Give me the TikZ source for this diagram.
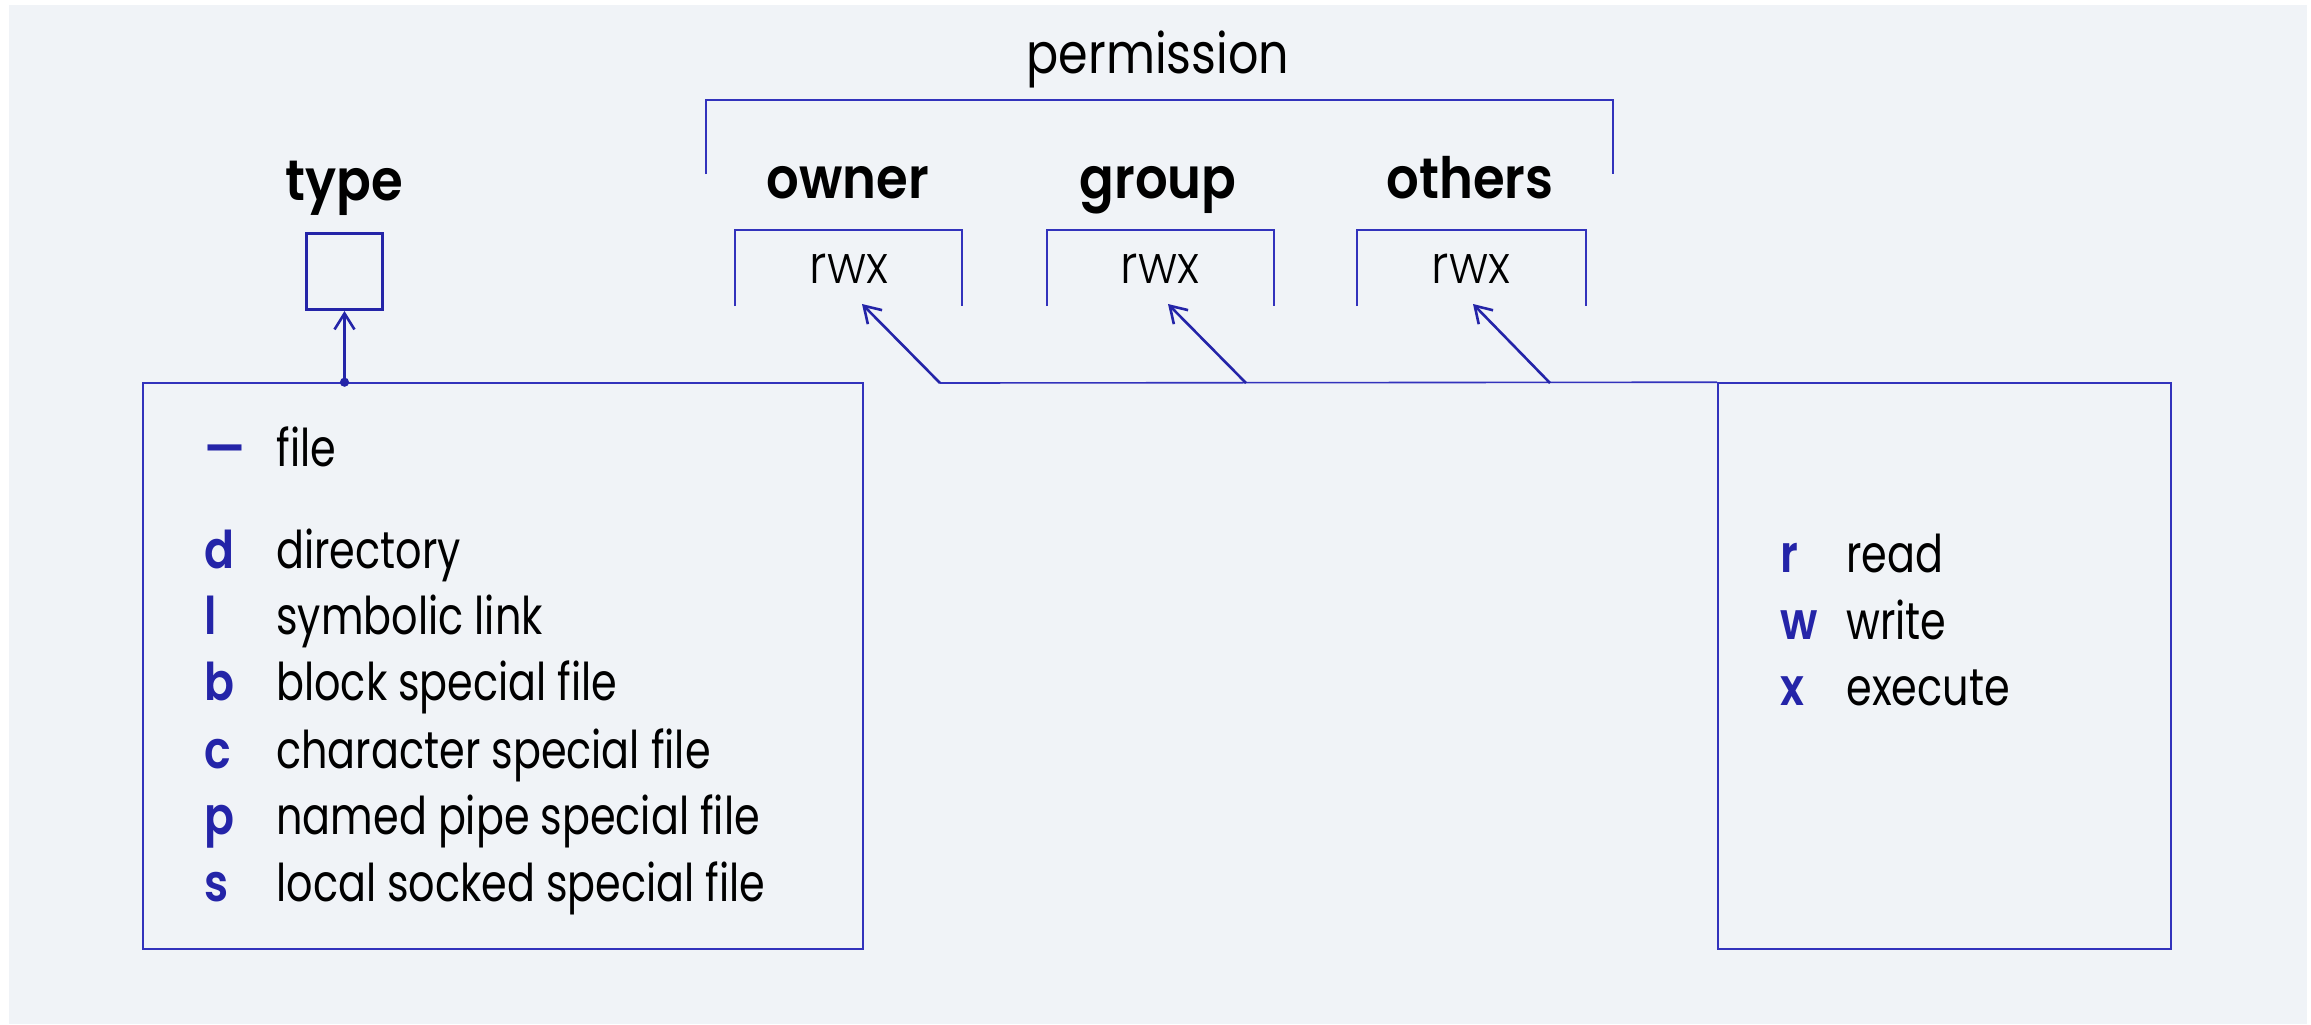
\documentclass[tikz,border=0pt]{standalone}
\usepackage{fontspec}
\setmainfont{Poppins}[FakeStretch=0.85]
\newfontfamily\itemfont{Poppins}[FakeStretch=0.795]
\newfontfamily\keyfont{Poppins SemiBold}[FakeStretch=0.85]
\newfontfamily\lightfont{Poppins Light}[FakeStretch=0.9]
\newfontfamily\headfont{Poppins SemiBold}[FakeStretch=0.9]
\usetikzlibrary{arrows.meta,fit}
\definecolor{bgfill}{HTML}{F0F3F7}
\definecolor{rule}{HTML}{3232BC}
\definecolor{ink}{HTML}{2424A8}

\tikzset{
  panel/.style={draw=rule, line width=0.8pt, inner sep=0pt},
  thinrule/.style={draw=rule, line width=0.8pt},
  pointer/.style={draw=ink, line width=1.3pt,
    -{Straight Barb[length=8pt,width=10pt,line width=1.3pt]}},
  key/.style={anchor=base west, text=ink, inner sep=0pt,
    font=\fontsize{26pt}{30pt}\keyfont\selectfont},
  desc/.style={anchor=base west, text=black, inner sep=0pt,
    font=\fontsize{26pt}{30pt}\itemfont\selectfont},
  head/.style={anchor=base, text=black, inner sep=0pt,
    font=\fontsize{28.5pt}{32pt}\headfont\selectfont},
  bits/.style={anchor=base, text=black, inner sep=0pt,
    font=\fontsize{26.5pt}{30pt}\lightfont\selectfont},
}

\begin{document}
\begin{tikzpicture}[x=0.5pt, y=-0.5pt]
  % canvas
  \useasboundingbox (0,0) rectangle (2311,1024);
  \fill[bgfill] (9,5) rectangle (2307,1024);

  % file type
  \node[head] (typelbl) at (344.5,200) {type};
  \node[draw=ink, line width=1.5pt, minimum width=38pt, minimum height=38pt,
        inner sep=0pt] (typebox) at (344.5,271.5) {};
  \node[panel, fit={(143,383) (863,949)}] (typelist) {};
  \fill[ink] (typelist.north -| typebox.south) coordinate (typefoot) circle (2.3pt);
  \draw[pointer] (typefoot) -- (typebox.south);

  \node[key]  (k-file) at (204,466) {—};
  \node[desc] (d-file) at (276,466) {file};
  \node[key]  (k-dir)  at (204,568) {d};
  \node[desc] (d-dir)  at (276,568) {directory};
  \node[key]  (k-lnk)  at (204,634) {l};
  \node[desc] (d-lnk)  at (276,634) {symbolic link};
  \node[key]  (k-blk)  at (204,700) {b};
  \node[desc] (d-blk)  at (276,700) {block special file};
  \node[key]  (k-chr)  at (204,768) {c};
  \node[desc] (d-chr)  at (276,768) {character special file};
  \node[key]  (k-pip)  at (204,834) {p};
  \node[desc] (d-pip)  at (276,834) {named pipe special file};
  \node[key]  (k-sck)  at (204,901) {s};
  \node[desc] (d-sck)  at (276,901) {local socked special file};

  % permission groups
  \node[anchor=base, inner sep=0pt, font=\fontsize{28pt}{32pt}\selectfont]
    (permlbl) at (1158,73) {permission};
  \draw[thinrule] (706,174) -- (706,100) -- (1613,100) -- (1613,174);

  \node[head] (owner)  at (848,198)  {owner};
  \node[head] (group)  at (1158,198) {group};
  \node[head] (others) at (1470,198) {others};

  \node[bits] (rwx-o) at (849,283)  {rwx};
  \node[bits] (rwx-g) at (1160,283) {rwx};
  \node[bits] (rwx-t) at (1471,283) {rwx};

  \draw[thinrule] (735,306)  |- (962,230)  -- (962,306);
  \draw[thinrule] (1047,306) |- (1274,230) -- (1274,306);
  \draw[thinrule] (1357,306) |- (1586,230) -- (1586,306);

  % permission bits legend
  \node[panel, fit={(1718,383) (2171,949)}] (bitlist) {};
  \node[key]  (k-r) at (1780,572) {r};
  \node[desc] (d-r) at (1846,572) {read};
  \node[key]  (k-w) at (1780,639) {w};
  \node[desc] (d-w) at (1846,639) {write};
  \node[key]  (k-x) at (1780,705) {x};
  \node[desc] (d-x) at (1846,705) {execute};

  % pointers from the legend to each rwx triple
  \coordinate (foot-o) at (940,383);
  \coordinate (foot-g) at (1246,383);
  \coordinate (foot-t) at (1550,383);
  \coordinate (tip-o) at (862,304);
  \coordinate (tip-g) at (1168,304);
  \coordinate (tip-t) at (1473,304);
  \draw[thinrule] (foot-o) -- (bitlist.north west);
  \draw[pointer] (foot-o) -- (tip-o);
  \draw[pointer] (foot-g) -- (tip-g);
  \draw[pointer] (foot-t) -- (tip-t);
\end{tikzpicture}
\end{document}
